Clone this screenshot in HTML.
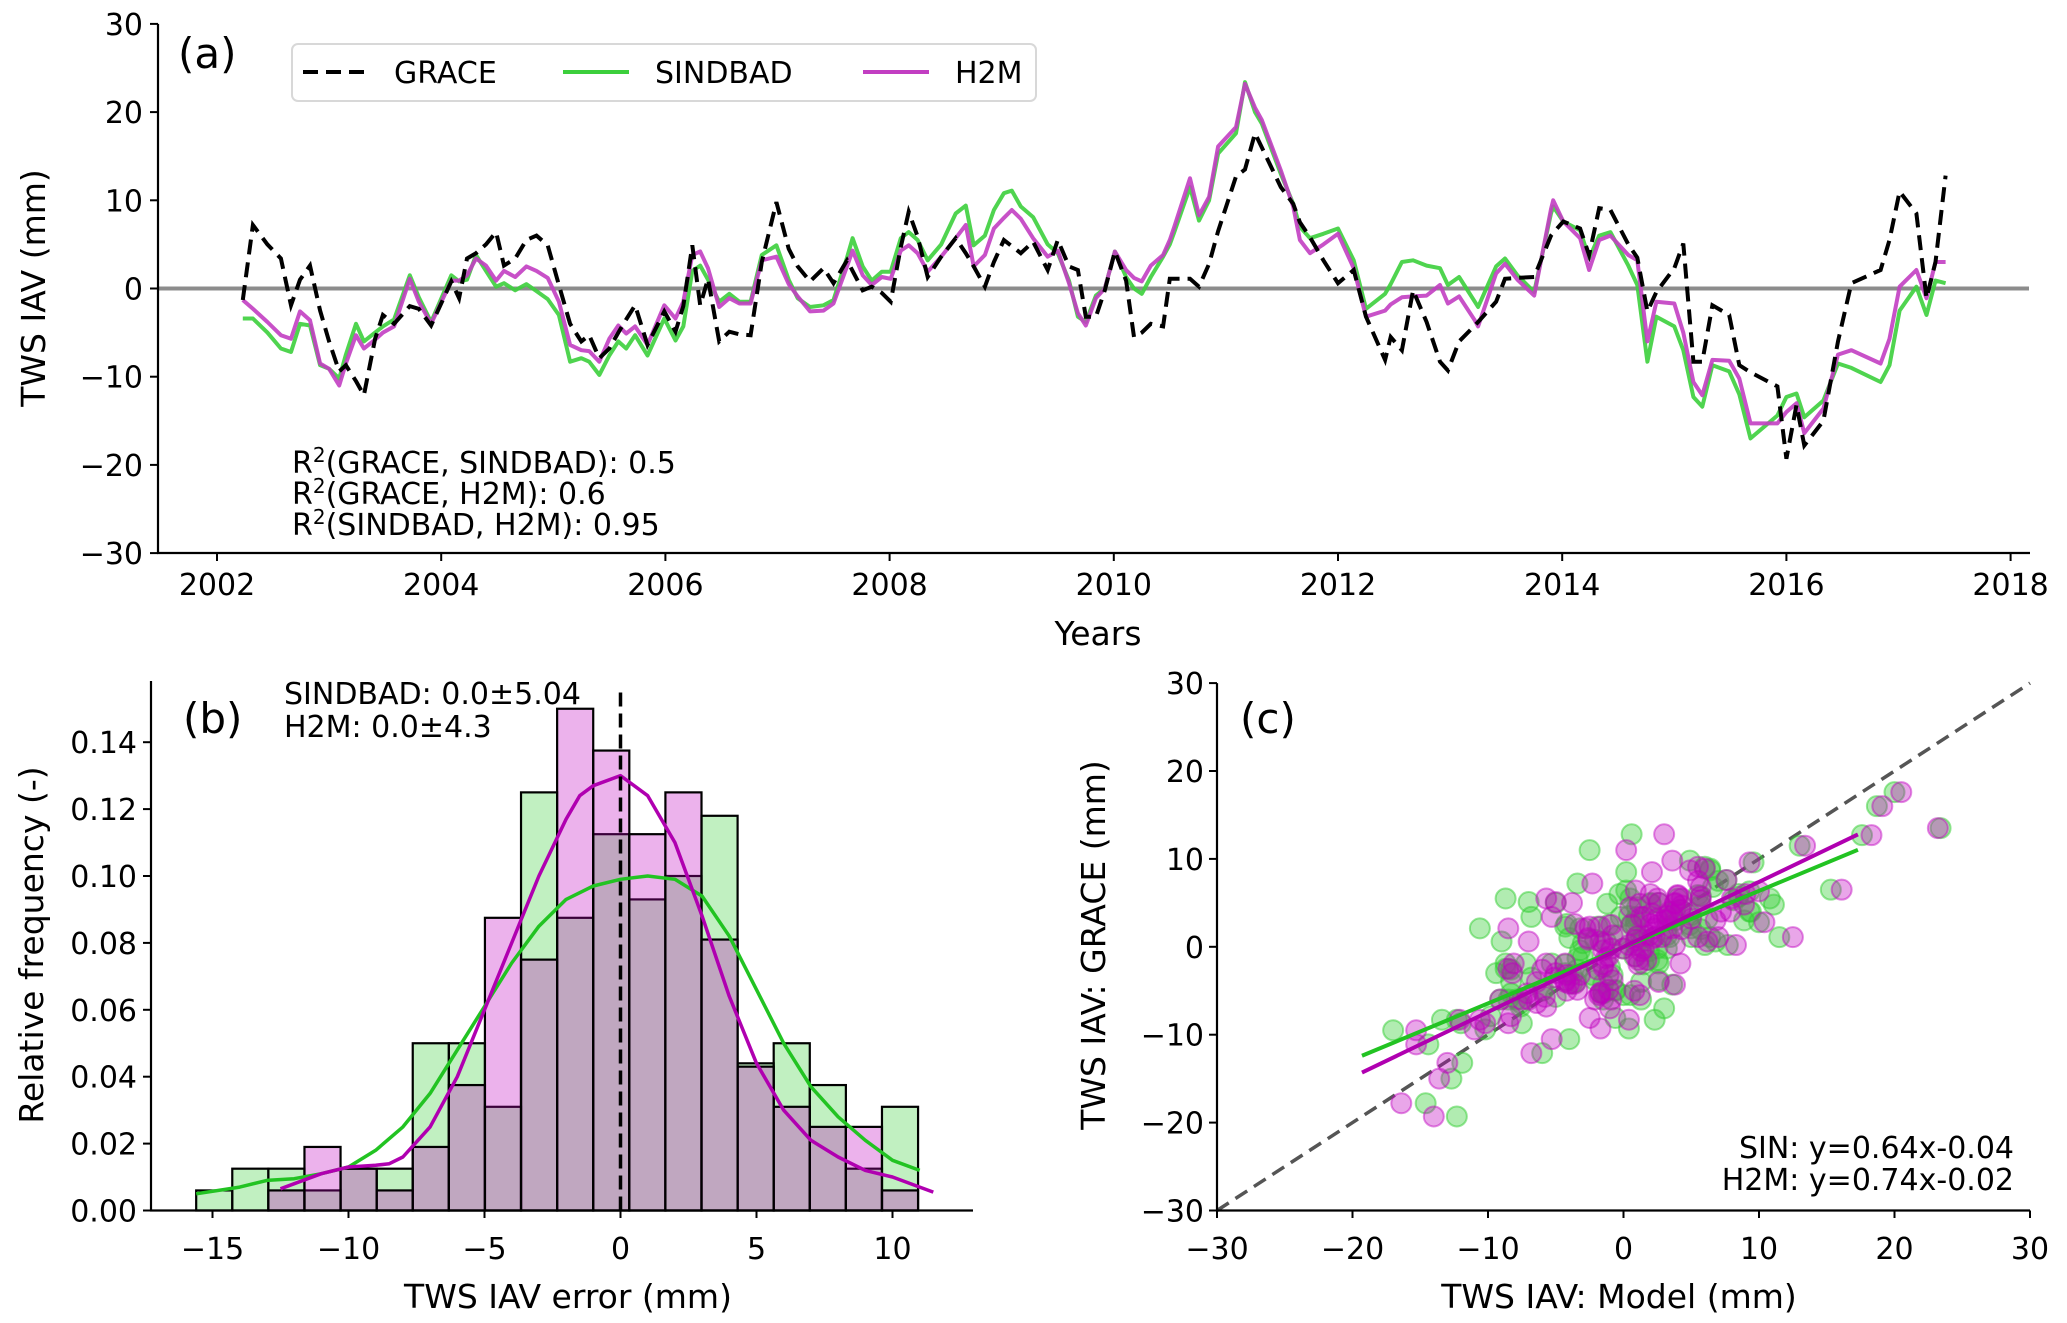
<!DOCTYPE html>
<html><head><meta charset="utf-8"><style>
html,body{margin:0;padding:0;background:#fff;}
svg{display:block;font-family:"DejaVu Sans","Liberation Sans",sans-serif;}
</style></head>
<body>
<svg id="fig" width="2067" height="1323" viewBox="0 0 2067 1323" xmlns="http://www.w3.org/2000/svg"></svg>
<script>
// ---------- Panel (a) time series data ----------
const timeYears = [2002.23,2002.32,2002.45,2002.57,2002.66,2002.74,2002.83,2002.92,2003.0,2003.09,2003.15,2003.24,2003.31,2003.41,2003.48,2003.58,2003.72,2003.8,2003.91,2004.09,2004.16,2004.23,2004.31,2004.4,2004.49,2004.56,2004.66,2004.76,2004.85,2004.95,2005.05,2005.15,2005.25,2005.32,2005.41,2005.5,2005.58,2005.65,2005.73,2005.84,2005.99,2006.09,2006.16,2006.24,2006.31,2006.38,2006.48,2006.57,2006.66,2006.76,2006.86,2006.99,2007.1,2007.18,2007.29,2007.41,2007.5,2007.62,2007.67,2007.76,2007.84,2007.93,2008.01,2008.1,2008.17,2008.25,2008.34,2008.46,2008.59,2008.68,2008.75,2008.85,2008.93,2009.02,2009.09,2009.17,2009.28,2009.41,2009.5,2009.6,2009.68,2009.75,2009.84,2009.92,2010.01,2010.11,2010.18,2010.25,2010.33,2010.44,2010.5,2010.54,2010.68,2010.76,2010.85,2010.93,2011.09,2011.17,2011.26,2011.32,2011.49,2011.6,2011.66,2011.75,2011.87,2012.0,2012.14,2012.25,2012.42,2012.47,2012.57,2012.67,2012.79,2012.91,2012.98,2013.08,2013.22,2013.25,2013.41,2013.49,2013.6,2013.75,2013.9,2013.92,2014.01,2014.16,2014.24,2014.33,2014.43,2014.59,2014.67,2014.76,2014.84,2015.0,2015.08,2015.17,2015.25,2015.34,2015.49,2015.58,2015.68,2015.92,2016.0,2016.09,2016.16,2016.33,2016.46,2016.58,2016.84,2016.92,2017.01,2017.16,2017.25,2017.33,2017.42];
const graceValues = [-1.3,7.2,5.0,3.4,-1.9,1.0,2.6,-2.5,-6.0,-9.4,-8.7,-10.5,-12.1,-5.7,-3.0,-4.0,-2.0,-2.3,-4.2,0.8,-1.1,3.4,4.0,5.0,6.4,2.6,3.4,5.5,6.0,4.9,0.4,-4.0,-6.0,-5.3,-7.9,-6.8,-5.0,-3.5,-1.9,-6.4,-2.6,-4.9,-2.0,4.9,-1.9,1.1,-6.0,-4.9,-5.2,-5.3,3.0,9.8,4.5,2.5,0.8,2.3,0.6,3.2,2.0,-0.2,0.2,-0.5,-1.5,4.7,8.7,5.9,1.3,3.6,5.7,4.0,2.5,0.2,3.0,5.5,4.8,4.0,5.3,2.1,5.5,2.5,2.1,-3.2,-3.2,-0.2,4.2,0.9,-5.5,-5.0,-4.0,-4.3,1.1,1.1,1.1,0.2,2.8,6.5,12.7,13.5,17.6,16.0,11.5,9.6,7.5,5.8,3.2,0.6,2.1,-3.2,-8.1,-5.5,-7.0,-0.2,-3.8,-8.3,-9.3,-6.0,-4.2,-3.8,-1.5,1.1,1.2,1.3,6.0,6.3,7.6,6.8,3.8,9.1,8.9,5.0,3.5,-2.6,-0.4,2.3,5.1,-8.3,-8.3,-1.9,-3.0,-8.7,-9.5,-11.1,-19.3,-13.2,-17.8,-15.0,-6.0,0.6,2.1,5.5,11.0,8.5,-1.1,3.0,12.8];
const sindbadValues = [-3.4,-3.4,-5.0,-6.8,-7.2,-4.0,-4.2,-8.7,-9.1,-10.2,-7.5,-4.0,-6.0,-5.0,-4.3,-3.5,1.5,-1.0,-3.8,1.5,0.8,1.0,3.8,2.0,0.2,0.6,-0.2,0.5,-0.3,-1.2,-3.0,-8.3,-7.9,-8.3,-9.8,-7.6,-6.0,-6.8,-5.3,-7.6,-3.4,-5.9,-4.3,2.0,2.6,1.0,-1.5,-0.6,-1.5,-1.5,3.8,4.9,1.0,-1.1,-2.1,-1.9,-1.3,3.5,5.7,2.5,0.9,1.9,1.9,5.7,6.4,5.5,3.2,5.0,8.5,9.4,4.9,6.0,8.9,10.8,11.1,9.3,8.1,5.0,4.0,0.9,-3.2,-3.8,-0.8,0,4.2,1.3,0,-0.6,1.3,3.6,5.0,6.4,11.5,7.7,10.0,15.3,17.6,23.4,20.0,18.7,13.0,9.6,7.0,5.7,6.2,6.8,3.2,-2.3,-0.6,0.5,3.0,3.2,2.6,2.3,0.4,1.3,-1.5,-2.1,2.5,3.4,1.5,-0.4,8.5,9.3,7.6,6.6,3.4,6.0,6.4,2.6,0.4,-8.3,-3.2,-4.3,-7.0,-12.3,-13.4,-8.7,-9.4,-12.0,-17.0,-14.4,-12.3,-11.9,-14.6,-12.7,-8.5,-9.0,-10.6,-8.7,-2.5,0.2,-3.0,0.9,0.6];
const h2mValues = [-1.3,-2.3,-3.8,-5.3,-5.7,-2.6,-3.6,-8.5,-9.1,-11.0,-8.5,-5.3,-6.8,-5.8,-5.0,-4.3,1.1,-1.5,-4.0,0.9,0.9,1.5,3.4,2.6,0.9,2.0,1.3,2.5,2.0,1.2,-1.5,-6.4,-7.0,-7.1,-8.3,-5.7,-4.2,-5.1,-4.3,-6.4,-1.9,-3.4,-1.5,3.8,4.2,2.3,-2.1,-1.1,-1.7,-1.7,3.2,3.6,0.5,-0.9,-2.6,-2.5,-1.7,2.5,4.3,1.5,0.4,1.3,1.1,4.3,4.9,4.0,1.9,3.6,5.7,7.2,2.5,3.8,6.8,8.0,8.9,7.9,5.7,3.6,4.3,0.6,-2.8,-4.2,-1.1,0,4.2,2.1,1.2,0.8,2.6,3.8,5.5,7.0,12.5,8.3,10.4,16.1,18.3,23.2,20.5,19.1,13.4,9.3,5.5,4.0,5.0,6.2,2.3,-3.2,-2.5,-1.8,-1.0,-0.9,-0.8,0.4,-1.7,-0.9,-3.6,-4.3,1.7,2.8,1.0,-0.8,9.0,10.0,7.6,5.7,2.1,5.5,6.0,3.8,3.2,-6.0,-1.5,-1.7,-5.0,-10.6,-12.1,-8.1,-8.2,-10.2,-15.3,-15.3,-14.0,-13.0,-16.4,-13.6,-7.5,-7.0,-8.5,-5.7,0.2,2.1,-1.1,3.0,3.0];
const yearTicks = [2002,2004,2006,2008,2010,2012,2014,2016,2018];
const tsYTicks = [-30,-20,-10,0,10,20,30];
const r2Labels = ["GRACE, SINDBAD): 0.5","GRACE, H2M): 0.6","SINDBAD, H2M): 0.95"];

// ---------- Panel (b) histogram data ----------
const binStart = -15.6;
const binWidth = 1.327;
const sindbadFreq = [0.006,0.0125,0.0125,0.006,0.0125,0.0125,0.05,0.05,0.031,0.125,0.0875,0.1125,0.093,0.1,0.118,0.044,0.05,0.0375,0.0125,0.031];
const h2mFreq = [0,0,0.006,0.019,0.0125,0.006,0.019,0.0375,0.0875,0.075,0.15,0.1375,0.1125,0.125,0.081,0.043,0.031,0.025,0.025,0.006];
const kdeSinX = [-15.6,-14,-13,-12,-11,-10,-9,-8,-7,-6,-5,-4,-3,-2,-1,0,1,2,3,4,5,6,7,8,9,10,11];
const kdeSinY = [0.005,0.007,0.009,0.0095,0.011,0.013,0.018,0.025,0.035,0.048,0.061,0.074,0.085,0.093,0.097,0.099,0.1,0.099,0.094,0.082,0.066,0.05,0.037,0.028,0.021,0.015,0.012];
const kdeH2mX = [-12.5,-11.5,-11,-10,-9,-8.5,-8,-7,-6,-5,-4,-3,-2,-1.5,-1,0,1,2,3,4,5,6,7,8,9,10,11,11.5];
const kdeH2mY = [0.0065,0.0095,0.011,0.013,0.0135,0.014,0.016,0.025,0.04,0.06,0.08,0.1,0.117,0.124,0.127,0.13,0.124,0.11,0.088,0.064,0.044,0.03,0.021,0.016,0.012,0.01,0.007,0.0055];
const histXTicks = [-15,-10,-5,0,5,10];
const histYTicks = [0,0.02,0.04,0.06,0.08,0.1,0.12,0.14];
const histYTickLabels = ["0.00","0.02","0.04","0.06","0.08","0.10","0.12","0.14"];

// ---------- Panel (c) regression data ----------
const regSlopes = [0.64, 0.74];
const regIntercepts = [-0.04, -0.02];
const regRangeX = [-19.3, 17.3];
const scatTicks = [-30,-20,-10,0,10,20,30];

const NS = "http://www.w3.org/2000/svg";
const svg = document.getElementById('fig');
function mk(tag, attrs, parent){
  const e = document.createElementNS(NS, tag);
  for (const k in attrs) e.setAttribute(k, attrs[k]);
  (parent||svg).appendChild(e);
  return e;
}
function txt(s, attrs, parent){ const e = mk('text', attrs, parent); e.textContent = s; return e; }
function poly(xs, ys, fx, fy){ return xs.map((x,i)=>fx(x).toFixed(1)+','+fy(ys[i]).toFixed(1)).join(' '); }

const GREEN = '#3ccf3c', MAG = '#c23ec2';
const TICKFS = 30, LABFS = 33;

// ================= Panel (a) =================
const ax = t => 217 + (t-2002)*112.1;
const ay = v => 288.5 - v*8.82;
const pa = mk('g', {});



const zero = mk('line', {x1:158, x2:2029, y1:ay(0), y2:ay(0), stroke:'#8c8c8c', 'stroke-width':4}, pa);



const sinLine = mk('polyline', {points:poly(timeYears, sindbadValues, ax, ay), fill:'none', stroke:GREEN, 'stroke-width':4, 'stroke-opacity':0.9, 'stroke-linejoin':'round'}, pa);


const h2mLine = mk('polyline', {points:poly(timeYears, h2mValues, ax, ay), fill:'none', stroke:MAG, 'stroke-width':4, 'stroke-opacity':0.9, 'stroke-linejoin':'round'}, pa);


const grLine = mk('polyline', {points:poly(timeYears, graceValues, ax, ay), fill:'none', stroke:'#000', 'stroke-width':4, 'stroke-dasharray':'15,8'}, pa);



// axes
const aL = mk('line', {x1:158, x2:158, y1:ay(30), y2:553, stroke:'#000', 'stroke-width':2.2}, pa);


const aB = mk('line', {x1:157, x2:2030, y1:553, y2:553, stroke:'#000', 'stroke-width':2.2}, pa);


tsYTicks.forEach(v=>{
  mk('line', {x1:150, x2:158, y1:ay(v), y2:ay(v), stroke:'#000', 'stroke-width':2}, pa);
  const t = txt((v<0?'\u2212':'')+Math.abs(v), {x:143, y:ay(v)+11, 'text-anchor':'end', 'font-size':TICKFS}, pa);
  
  
});
yearTicks.forEach(yr=>{
  mk('line', {x1:ax(yr), x2:ax(yr), y1:553, y2:561, stroke:'#000', 'stroke-width':2}, pa);
  const t = txt(String(yr), {x:ax(yr), y:595, 'text-anchor':'middle', 'font-size':TICKFS}, pa);
  
  
});
const aXL = txt('Years', {x:1098, y:645, 'text-anchor':'middle', 'font-size':LABFS}, pa);


const aYL = txt('TWS IAV (mm)', {x:0, y:0, 'text-anchor':'middle', 'font-size':LABFS, transform:'translate(45,288) rotate(-90)'}, pa);


const aTag = txt('(a)', {x:178, y:68, 'font-size':42}, pa);



// legend
const leg = mk('g', {}, pa);


mk('rect', {x:292, y:44, width:744, height:57, rx:6, fill:'#fff', 'fill-opacity':0.8, stroke:'#d8d8d8', 'stroke-width':2}, leg);
const legItems = [['GRACE','#000',303,394,true],['SINDBAD',GREEN,563,655,false],['H2M',MAG,863,955,false]];
legItems.forEach(it=>{
  const g = mk('g', {}, leg);
  
  
  const la = {x1:it[2], x2:it[2]+66, y1:72, y2:72, stroke:it[1], 'stroke-width':4};
  if (it[4]) la['stroke-dasharray'] = '15,8';
  mk('line', la, g);
  txt(it[0], {x:it[3], y:83, 'font-size':TICKFS}, g);
});

// R2 annotations
const r2y = [473, 504, 535];
r2Labels.forEach((s,i)=>{
  const t = mk('text', {x:292, y:r2y[i], 'font-size':TICKFS}, pa);
  
  
  const a = document.createElementNS(NS,'tspan'); a.textContent='R'; t.appendChild(a);
  const b = document.createElementNS(NS,'tspan'); b.textContent='2'; b.setAttribute('font-size','20'); b.setAttribute('dy','-11'); t.appendChild(b);
  const c = document.createElementNS(NS,'tspan'); c.textContent='('+s; c.setAttribute('dy','11'); t.appendChild(c);
});

// ================= Panel (b) =================
const bx = v => 620.5 + v*27.2;
const by = f => 1210.5 - f*3345;
const pb = mk('g', {});


sindbadFreq.forEach((f,i)=>{
  if (f<=0) return;
  const x0 = binStart + i*binWidth;
  const r = mk('rect', {x:bx(x0), y:by(f), width:bx(x0+binWidth)-bx(x0), height:by(0)-by(f), fill:'#32cd32', 'fill-opacity':0.3, stroke:'#000', 'stroke-width':2.2}, pb);
  
  
});
h2mFreq.forEach((f,i)=>{
  if (f<=0) return;
  const x0 = binStart + i*binWidth;
  const r = mk('rect', {x:bx(x0), y:by(f), width:bx(x0+binWidth)-bx(x0), height:by(0)-by(f), fill:'#bf00bf', 'fill-opacity':0.3, stroke:'#000', 'stroke-width':2.2}, pb);
  
  
});
const k1 = mk('polyline', {points:poly(kdeSinX, kdeSinY, bx, by), fill:'none', stroke:'#22c322', 'stroke-width':3.5, 'stroke-linejoin':'round'}, pb);


const k2 = mk('polyline', {points:poly(kdeH2mX, kdeH2mY, bx, by), fill:'none', stroke:'#b000b0', 'stroke-width':3.5, 'stroke-linejoin':'round'}, pb);


const zl = mk('line', {x1:bx(0), x2:bx(0), y1:by(0), y2:687, stroke:'#000', 'stroke-width':3.5, 'stroke-dasharray':'14,7'}, pb);


const bL = mk('line', {x1:151, x2:151, y1:681, y2:1210.5, stroke:'#000', 'stroke-width':2.2}, pb);


const bB = mk('line', {x1:150, x2:973, y1:1210.5, y2:1210.5, stroke:'#000', 'stroke-width':2.2}, pb);


histYTicks.forEach((v,i)=>{
  mk('line', {x1:143, x2:151, y1:by(v), y2:by(v), stroke:'#000', 'stroke-width':2}, pb);
  const t = txt(histYTickLabels[i], {x:137, y:by(v)+11, 'text-anchor':'end', 'font-size':TICKFS}, pb);
  
  
});
histXTicks.forEach(v=>{
  mk('line', {x1:bx(v), x2:bx(v), y1:1210.5, y2:1218, stroke:'#000', 'stroke-width':2}, pb);
  const t = txt((v<0?'\u2212':'')+Math.abs(v), {x:bx(v), y:1259, 'text-anchor':'middle', 'font-size':TICKFS}, pb);
  
  
});
const bXL = txt('TWS IAV error (mm)', {x:568, y:1308, 'text-anchor':'middle', 'font-size':LABFS}, pb);


const bYL = txt('Relative frequency (-)', {x:0, y:0, 'text-anchor':'middle', 'font-size':LABFS, transform:'translate(43,945) rotate(-90)'}, pb);


const bTag = txt('(b)', {x:183, y:733, 'font-size':42}, pb);


const bS1 = txt('SINDBAD: 0.0\u00b15.04', {x:284, y:704, 'font-size':TICKFS}, pb);


const bS2 = txt('H2M: 0.0\u00b14.3', {x:284, y:737, 'font-size':TICKFS}, pb);



// ================= Panel (c) =================
const cx = v => 1623.5 + v*13.55;
const cy = v => 946.8 - v*8.79;
const pc = mk('g', {});


const diag = mk('line', {x1:cx(-30), y1:cy(-30), x2:cx(30), y2:cy(30), stroke:'#555', 'stroke-width':3.5, 'stroke-dasharray':'14,8'}, pc);


const gS = mk('g', {}, pc);


sindbadValues.forEach((m,i)=>{
  const c = mk('circle', {cx:cx(m), cy:cy(graceValues[i]), r:10, fill:'#32cd32', 'fill-opacity':0.38, stroke:'#32cd32', 'stroke-opacity':0.5, 'stroke-width':2}, gS);
  
  
});
const gH = mk('g', {}, pc);


h2mValues.forEach((m,i)=>{
  const c = mk('circle', {cx:cx(m), cy:cy(graceValues[i]), r:10, fill:'#bf00bf', 'fill-opacity':0.35, stroke:'#bf00bf', 'stroke-opacity':0.45, 'stroke-width':2}, gH);
  
  
});
const regColors = ['#22c322','#b000b0'];
const regNames = ['regression-sindbad','regression-h2m'];
regSlopes.forEach((s,i)=>{
  const l = mk('line', {x1:cx(regRangeX[0]), y1:cy(s*regRangeX[0]+regIntercepts[i]), x2:cx(regRangeX[1]), y2:cy(s*regRangeX[1]+regIntercepts[i]), stroke:regColors[i], 'stroke-width':4}, pc);
  
  
});
const cL = mk('line', {x1:1217, x2:1217, y1:cy(30), y2:1210.5, stroke:'#000', 'stroke-width':2.2}, pc);


const cB = mk('line', {x1:1216, x2:2030, y1:1210.5, y2:1210.5, stroke:'#000', 'stroke-width':2.2}, pc);


scatTicks.forEach(v=>{
  const lab = (v<0?'\u2212':'')+Math.abs(v);
  mk('line', {x1:1209, x2:1217, y1:cy(v), y2:cy(v), stroke:'#000', 'stroke-width':2}, pc);
  const t = txt(lab, {x:1204, y:cy(v)+11, 'text-anchor':'end', 'font-size':TICKFS}, pc);
  
  
  mk('line', {x1:cx(v), x2:cx(v), y1:1210.5, y2:1218, stroke:'#000', 'stroke-width':2}, pc);
  const t2 = txt(lab, {x:cx(v), y:1259, 'text-anchor':'middle', 'font-size':TICKFS}, pc);
  
  
});
const cXL = txt('TWS IAV: Model (mm)', {x:1619, y:1308, 'text-anchor':'middle', 'font-size':LABFS}, pc);


const cYL = txt('TWS IAV: GRACE (mm)', {x:0, y:0, 'text-anchor':'middle', 'font-size':LABFS, transform:'translate(1105,945) rotate(-90)'}, pc);


const cTag = txt('(c)', {x:1240, y:733, 'font-size':42}, pc);


const cE1 = txt('SIN: y=0.64x-0.04', {x:2014, y:1158, 'text-anchor':'end', 'font-size':TICKFS}, pc);


const cE2 = txt('H2M: y=0.74x-0.02', {x:2014, y:1190, 'text-anchor':'end', 'font-size':TICKFS}, pc);


</script>
</body></html>
